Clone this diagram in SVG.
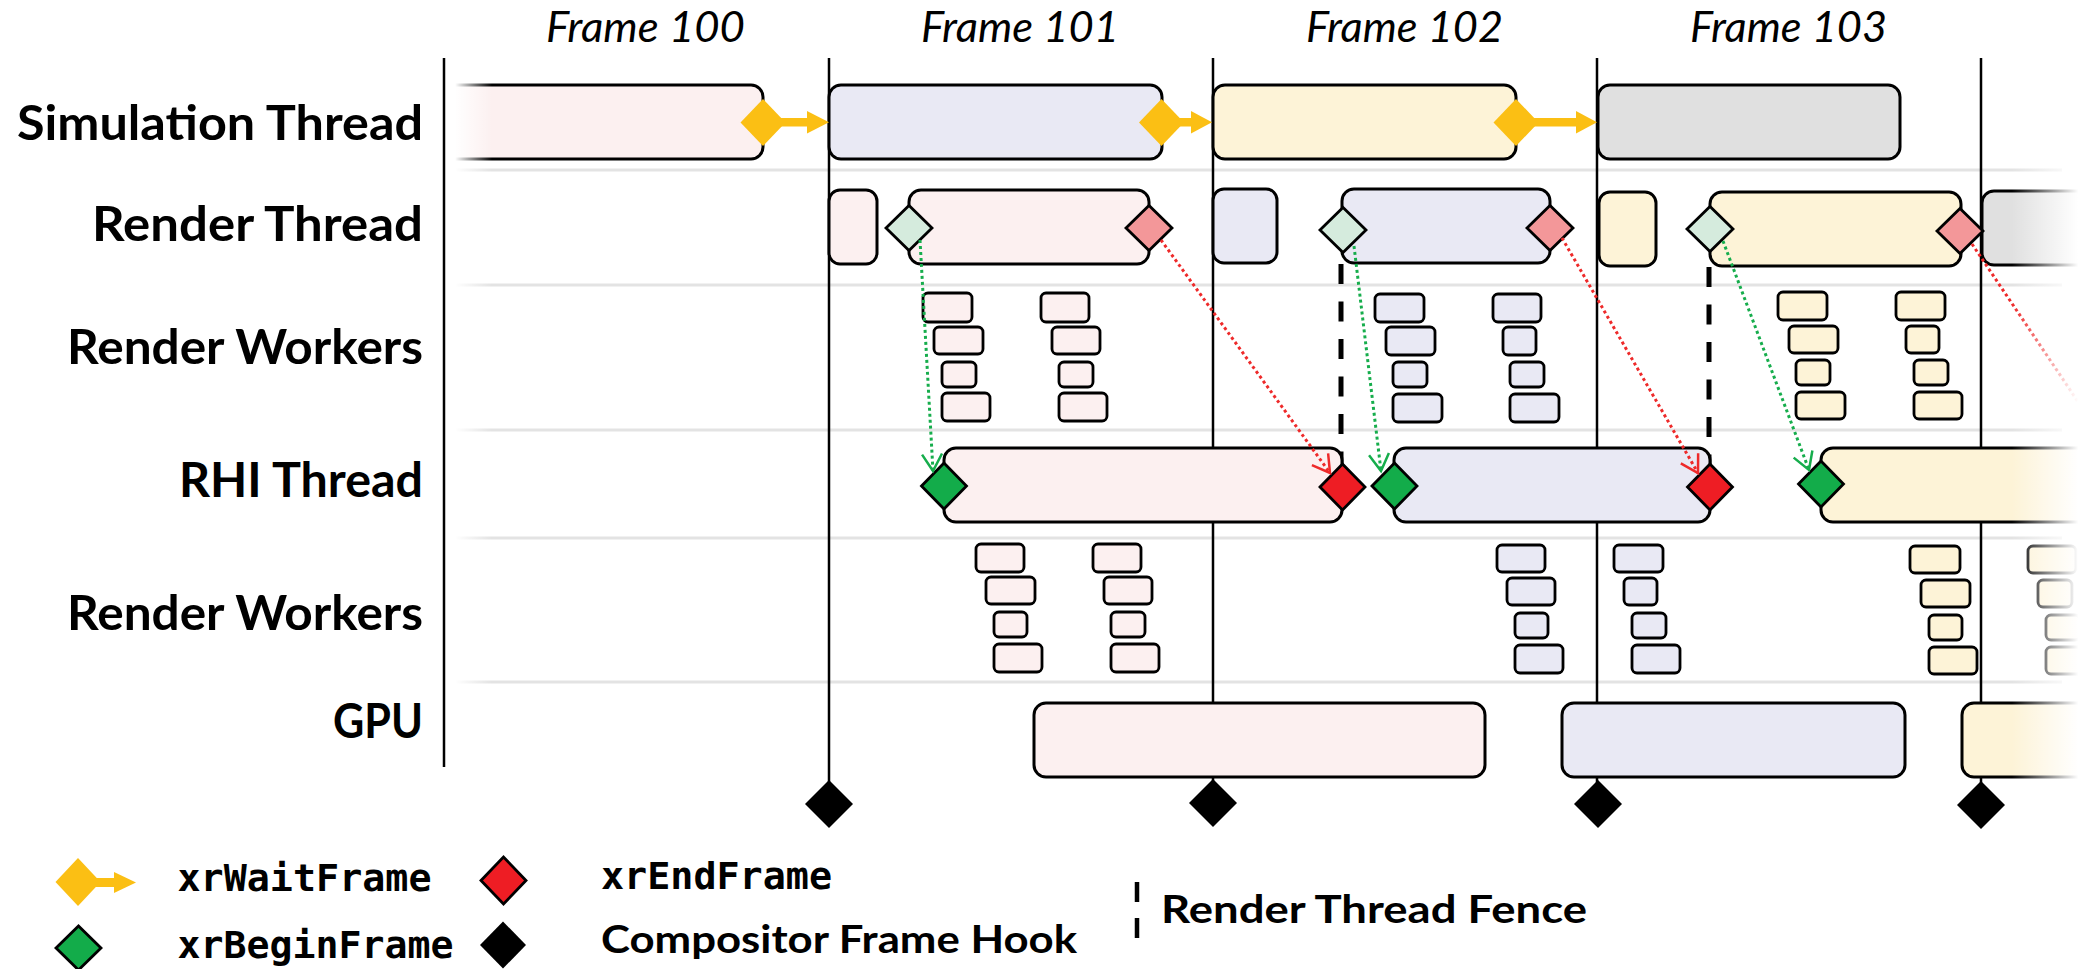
<svg xmlns="http://www.w3.org/2000/svg" width="2090" height="969" viewBox="0 0 2090 969">
<defs>
<style>
.lbl{font-family:Lato,"Open Sans","Noto Sans",sans-serif;font-weight:bold;font-size:47.5px;fill:#000}
.ttl{font-family:Lato,"Open Sans","Noto Sans",sans-serif;font-style:italic;font-size:42px;fill:#000}
.mono{font-family:"DejaVu Sans Mono","Liberation Mono",monospace;font-weight:bold;font-size:38px;fill:#000}
.leg{font-family:Lato,"Open Sans","Noto Sans",sans-serif;font-weight:bold;font-size:39px;fill:#000}
.sep{stroke:#e3e3e3;stroke-width:3;fill:none}
.fl{stroke:#000;stroke-width:2.5;fill:none}
.box{stroke:#000;stroke-width:3}
.wk{stroke:#000;stroke-width:2.8}
.p{fill:#fcf0f0}.l{fill:#e9e9f4}.c{fill:#fdf3d7}.g{fill:#e0e0e0}
.dm{stroke:#000;stroke-width:2.8}
.mint{fill:#d5ebdd}.pk{fill:#f39799}.gr{fill:#13ac4a}.rd{fill:#ee1d24}.bk{fill:#000}
.yl{fill:#fbbf14}
.gd{stroke:#16ad4c;stroke-width:3;stroke-dasharray:3 3;fill:none}
.rdl{stroke:#ee2a2a;stroke-width:3;stroke-dasharray:3 3;fill:none}
.fence{stroke:#000;stroke-width:5;stroke-dasharray:20 17.5;fill:none}
</style>
<marker id="ag" markerUnits="userSpaceOnUse" markerWidth="25" markerHeight="30" viewBox="-20 -15 25 30" refX="0" refY="0" orient="auto">
<path d="M-17,-10 L0,0 L-17,10" fill="none" stroke="#16ad4c" stroke-width="2.5"/>
</marker>
<marker id="ar" markerUnits="userSpaceOnUse" markerWidth="25" markerHeight="30" viewBox="-20 -15 25 30" refX="0" refY="0" orient="auto">
<path d="M-17,-10 L0,0 L-17,10" fill="none" stroke="#ee2a2a" stroke-width="2.5"/>
</marker>
<linearGradient id="fadeL" x1="0" y1="0" x2="1" y2="0">
<stop offset="0" stop-color="#fff" stop-opacity="1"/>
<stop offset="0.2" stop-color="#fff" stop-opacity="1"/>
<stop offset="1" stop-color="#fff" stop-opacity="0"/>
</linearGradient>
<linearGradient id="fadeR" x1="0" y1="0" x2="1" y2="0">
<stop offset="0" stop-color="#fff" stop-opacity="0"/>
<stop offset="0.85" stop-color="#fff" stop-opacity="1"/>
<stop offset="1" stop-color="#fff" stop-opacity="1"/>
</linearGradient>
<clipPath id="clipL">
<rect x="446" y="0" width="1700" height="969"/>
</clipPath>
</defs>
<rect width="2090" height="969" fill="#fff"/>

<g id="titles">
<text class="ttl" x="546" y="42" textLength="199" lengthAdjust="spacingAndGlyphs">Frame 100</text>
<text class="ttl" x="921" y="42" textLength="198" lengthAdjust="spacingAndGlyphs">Frame 101</text>
<text class="ttl" x="1306" y="42" textLength="197" lengthAdjust="spacingAndGlyphs">Frame 102</text>
<text class="ttl" x="1690" y="42" textLength="197" lengthAdjust="spacingAndGlyphs">Frame 103</text>
</g>

<g id="lane-labels">
<text class="lbl" x="17" y="140" textLength="406" lengthAdjust="spacingAndGlyphs">Simulation Thread</text>
<text class="lbl" x="92" y="241" textLength="331" lengthAdjust="spacingAndGlyphs">Render Thread</text>
<text class="lbl" x="67" y="364" textLength="356" lengthAdjust="spacingAndGlyphs">Render Workers</text>
<text class="lbl" x="179" y="497" textLength="244" lengthAdjust="spacingAndGlyphs">RHI Thread</text>
<text class="lbl" x="67" y="630" textLength="356" lengthAdjust="spacingAndGlyphs">Render Workers</text>
<text class="lbl" x="333" y="738" textLength="90" lengthAdjust="spacingAndGlyphs">GPU</text>
</g>

<g id="grid">
<line class="sep" x1="446" y1="170" x2="2062" y2="170"/>
<line class="sep" x1="446" y1="285" x2="2062" y2="285"/>
<line class="sep" x1="446" y1="430" x2="2062" y2="430"/>
<line class="sep" x1="446" y1="538" x2="2062" y2="538"/>
<line class="sep" x1="446" y1="682" x2="2062" y2="682"/>
<line class="fl" x1="829" y1="58" x2="829" y2="800"/>
<line class="fl" x1="1213" y1="58" x2="1213" y2="800"/>
<line class="fl" x1="1597" y1="58" x2="1597" y2="800"/>
<line class="fl" x1="1981" y1="58" x2="1981" y2="800"/>
</g>

<g id="sim-thread">
<rect class="box p" x="400" y="85" width="363" height="74" rx="12" clip-path="url(#clipL)"/>
<rect class="box l" x="829" y="85" width="333" height="74" rx="12"/>
<rect class="box c" x="1213" y="85" width="303" height="74" rx="12"/>
<rect class="box g" x="1598" y="85" width="302" height="74" rx="12"/>
</g>

<g id="render-thread">
<rect class="box p" x="829" y="190" width="48" height="74" rx="11"/>
<rect class="box p" x="909" y="190" width="240" height="74" rx="12"/>
<rect class="box l" x="1213" y="189" width="64" height="74" rx="11"/>
<rect class="box l" x="1342" y="189" width="208" height="74" rx="12"/>
<rect class="box c" x="1599" y="192" width="57" height="74" rx="11"/>
<rect class="box c" x="1710" y="192" width="251" height="74" rx="12"/>
<rect class="box g" x="1982" y="191" width="130" height="74" rx="12"/>
</g>

<g id="render-workers-1">
<rect class="wk p" x="923" y="293" width="49" height="29" rx="5"/>
<rect class="wk p" x="934" y="327" width="49" height="27" rx="5"/>
<rect class="wk p" x="942" y="362" width="34" height="25" rx="5"/>
<rect class="wk p" x="942" y="393" width="48" height="28" rx="5"/>
<rect class="wk p" x="1041" y="293" width="48" height="29" rx="5"/>
<rect class="wk p" x="1052" y="327" width="48" height="27" rx="5"/>
<rect class="wk p" x="1059" y="362" width="34" height="25" rx="5"/>
<rect class="wk p" x="1059" y="393" width="48" height="28" rx="5"/>
<rect class="wk l" x="1375" y="294" width="49" height="28" rx="5"/>
<rect class="wk l" x="1386" y="327" width="49" height="28" rx="5"/>
<rect class="wk l" x="1393" y="362" width="34" height="25" rx="5"/>
<rect class="wk l" x="1393" y="394" width="49" height="28" rx="5"/>
<rect class="wk l" x="1493" y="294" width="48" height="28" rx="5"/>
<rect class="wk l" x="1503" y="327" width="33" height="28" rx="5"/>
<rect class="wk l" x="1510" y="362" width="34" height="25" rx="5"/>
<rect class="wk l" x="1510" y="394" width="49" height="28" rx="5"/>
<rect class="wk c" x="1778" y="292" width="49" height="28" rx="5"/>
<rect class="wk c" x="1789" y="326" width="49" height="27" rx="5"/>
<rect class="wk c" x="1796" y="360" width="34" height="25" rx="5"/>
<rect class="wk c" x="1796" y="392" width="49" height="27" rx="5"/>
<rect class="wk c" x="1896" y="292" width="49" height="28" rx="5"/>
<rect class="wk c" x="1906" y="326" width="33" height="27" rx="5"/>
<rect class="wk c" x="1914" y="360" width="34" height="25" rx="5"/>
<rect class="wk c" x="1914" y="392" width="48" height="27" rx="5"/>
</g>

<g id="fences">
<line class="fence" x1="1341" y1="264" x2="1341" y2="472"/>
<line class="fence" x1="1709" y1="267" x2="1709" y2="472"/>
</g>

<g id="rhi-thread">
<rect class="box p" x="944" y="448" width="398" height="74" rx="12"/>
<rect class="box l" x="1394" y="448" width="316" height="74" rx="12"/>
<rect class="box c" x="1821" y="448" width="290" height="74" rx="12"/>
</g>

<g id="render-workers-2">
<rect class="wk p" x="976" y="544" width="48" height="28" rx="5"/>
<rect class="wk p" x="986" y="577" width="49" height="27" rx="5"/>
<rect class="wk p" x="994" y="612" width="33" height="25" rx="5"/>
<rect class="wk p" x="994" y="644" width="48" height="28" rx="5"/>
<rect class="wk p" x="1093" y="544" width="48" height="28" rx="5"/>
<rect class="wk p" x="1104" y="577" width="48" height="27" rx="5"/>
<rect class="wk p" x="1111" y="612" width="34" height="25" rx="5"/>
<rect class="wk p" x="1111" y="644" width="48" height="28" rx="5"/>
<rect class="wk l" x="1497" y="545" width="48" height="27" rx="5"/>
<rect class="wk l" x="1507" y="578" width="48" height="27" rx="5"/>
<rect class="wk l" x="1515" y="613" width="33" height="25" rx="5"/>
<rect class="wk l" x="1515" y="645" width="48" height="28" rx="5"/>
<rect class="wk l" x="1614" y="545" width="49" height="27" rx="5"/>
<rect class="wk l" x="1624" y="578" width="33" height="27" rx="5"/>
<rect class="wk l" x="1632" y="613" width="34" height="25" rx="5"/>
<rect class="wk l" x="1632" y="645" width="48" height="28" rx="5"/>
<rect class="wk c" x="1910" y="546" width="50" height="27" rx="5"/>
<rect class="wk c" x="1921" y="580" width="49" height="27" rx="5"/>
<rect class="wk c" x="1929" y="615" width="33" height="25" rx="5"/>
<rect class="wk c" x="1929" y="647" width="48" height="27" rx="5"/>
<rect class="wk c" x="2028" y="546" width="48" height="27" rx="5"/>
<rect class="wk c" x="2038" y="580" width="34" height="27" rx="5"/>
<rect class="wk c" x="2046" y="615" width="34" height="25" rx="5"/>
<rect class="wk c" x="2046" y="647" width="48" height="27" rx="5"/>
</g>

<g id="gpu">
<rect class="box p" x="1034" y="703" width="451" height="74" rx="12"/>
<rect class="box l" x="1562" y="703" width="343" height="74" rx="12"/>
<rect class="box c" x="1962" y="703" width="150" height="74" rx="12"/>
</g>

<g id="markers-render">
<polygon class="dm mint" points="886,228 909,205.5 932,228 909,250.5"/>
<polygon class="dm pk" points="1126,228 1149,205.5 1172,228 1149,250.5"/>
<polygon class="dm mint" points="1320,230 1343,207.5 1366,230 1343,252.5"/>
<polygon class="dm pk" points="1527,228 1550,205.5 1573,228 1550,250.5"/>
<polygon class="dm mint" points="1687,229 1710,206.5 1733,229 1710,251.5"/>
<polygon class="dm pk" points="1937,231 1960,208.5 1983,231 1960,253.5"/>
</g>

<g id="markers-rhi">
<polygon class="dm gr" points="921.5,486 944,463 966.5,486 944,509"/>
<polygon class="dm rd" points="1320,487 1342.5,464 1365,487 1342.5,510"/>
<polygon class="dm gr" points="1372,486 1394.5,463 1417,486 1394.5,509"/>
<polygon class="dm rd" points="1687.5,487 1710,464 1732.5,487 1710,510"/>
<polygon class="dm gr" points="1798.5,484 1821,461 1843.5,484 1821,507"/>
</g>

<g id="compositor-hooks">
<polygon class="bk" points="805,804 829,780 853,804 829,828"/>
<polygon class="bk" points="1189,803 1213,779 1237,803 1213,827"/>
<polygon class="bk" points="1574,804 1598,780 1622,804 1598,828"/>
<polygon class="bk" points="1957,805 1981,781 2005,805 1981,829"/>
</g>

<g id="connectors">
<g id="wait-arrows" class="yl">
<polygon points="740.5,122.5 763,99 785.5,122.5 763,146"/>
<rect x="780" y="118" width="28" height="8.5"/>
<polygon points="807,111 829,122.3 807,133.5"/>
<polygon points="1139,122.5 1161.5,99 1184,122.5 1161.5,146"/>
<rect x="1178" y="118" width="14" height="8.5"/>
<polygon points="1191,111 1212,122.3 1191,133.5"/>
<polygon points="1493.5,122.5 1516,99 1538.5,122.5 1516,146"/>
<rect x="1533" y="118" width="44" height="8.5"/>
<polygon points="1576,111 1597,122.3 1576,133.5"/>
</g>
<line class="gd" x1="920" y1="240" x2="933" y2="471" marker-end="url(#ag)"/>
<line class="rdl" x1="1161" y1="240" x2="1330" y2="473" marker-end="url(#ar)"/>
<line class="gd" x1="1354" y1="246" x2="1381" y2="471" marker-end="url(#ag)"/>
<line class="rdl" x1="1562" y1="238" x2="1698" y2="473" marker-end="url(#ar)"/>
<line class="gd" x1="1723" y1="241" x2="1809" y2="470" marker-end="url(#ag)"/>
<line class="rdl" x1="1972" y1="244" x2="2126" y2="473"/>
</g>

<rect id="fade-left" x="446" y="55" width="46" height="690" fill="url(#fadeL)"/>
<rect id="fade-right" x="2012" y="60" width="78" height="740" fill="url(#fadeR)"/>
<line id="axis" class="fl" x1="444" y1="58" x2="444" y2="767"/>

<g id="legend">
<g id="leg-wait" class="yl">
<polygon points="55.5,882 78,858 100.5,882 78,906"/>
<rect x="96" y="878" width="20" height="9"/>
<polygon points="114,872 136,882.5 114,893"/>
</g>
<text class="mono" x="177.5" y="891" textLength="254" lengthAdjust="spacingAndGlyphs">xrWaitFrame</text>
<polygon id="leg-end" class="dm rd" points="481,880.5 503.5,857 526,880.5 503.5,904"/>
<text class="mono" x="601" y="889" textLength="231" lengthAdjust="spacingAndGlyphs">xrEndFrame</text>
<polygon id="leg-begin" class="dm gr" points="56,948 78.5,926 101,948 78.5,970"/>
<text class="mono" x="177.5" y="958" textLength="276" lengthAdjust="spacingAndGlyphs">xrBeginFrame</text>
<polygon id="leg-hook" class="bk" points="480,945 503,921.5 526,945 503,968.5"/>
<text class="leg" x="601" y="953" textLength="476" lengthAdjust="spacingAndGlyphs">Compositor Frame Hook</text>
<line class="fence" x1="1137" y1="882" x2="1137" y2="939" style="stroke-width:4.5;stroke-dasharray:20 16"/>
<text class="leg" x="1161" y="923" textLength="426" lengthAdjust="spacingAndGlyphs">Render Thread Fence</text>
</g>
</svg>
